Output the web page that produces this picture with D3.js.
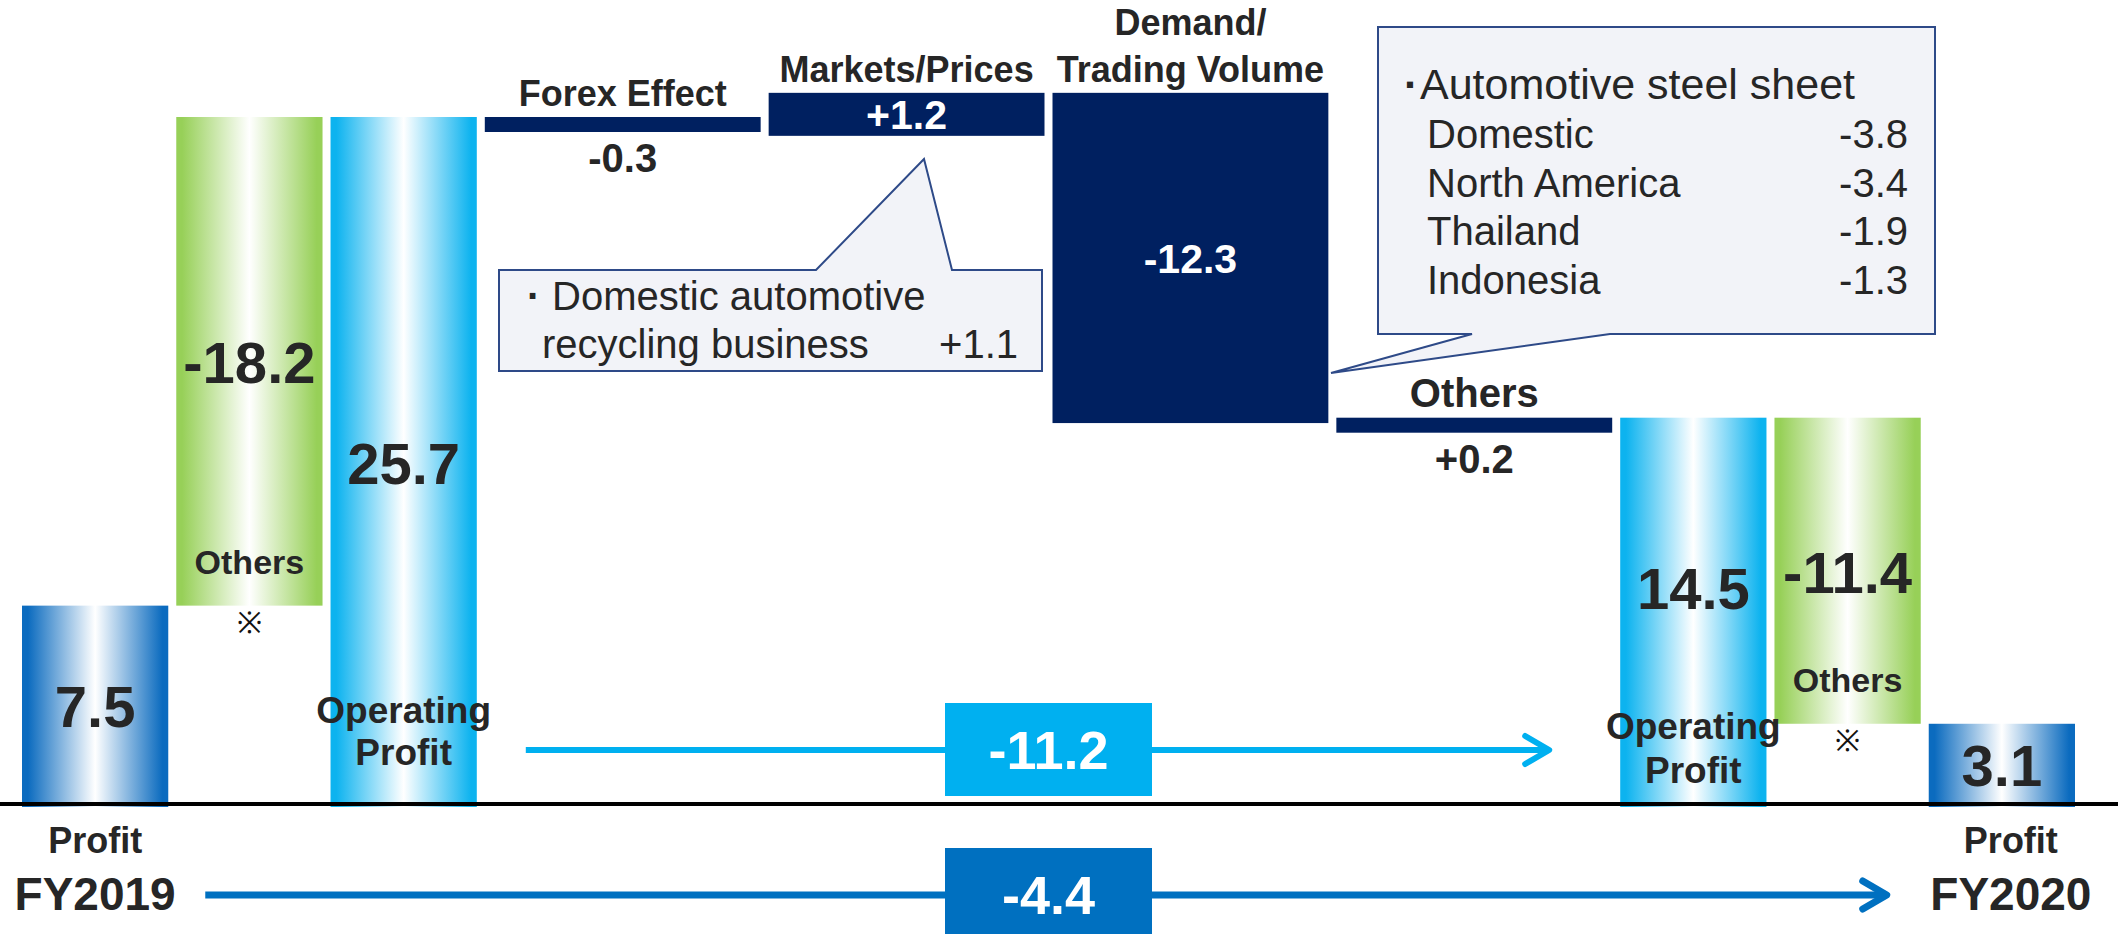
<!DOCTYPE html>
<html><head><meta charset="utf-8">
<script src="https://cdn.jsdelivr.net/npm/d3@7"></script>
<style>
html,body{margin:0;padding:0;background:#fff;}
svg{display:block;}
text{font-family:"Liberation Sans",Arial,Helvetica,sans-serif;}
</style>
</head><body>
<svg id="chart" width="2118" height="934"></svg>
<script>
// ---------------- data ----------------
const categories = ["Profit\nFY2019","Others","Operating\nProfit","Forex Effect","Markets/Prices","Demand/\nTrading Volume","Others","Operating\nProfit","Others","Profit\nFY2020"];
const values = [7.5, -18.2, 25.7, -0.3, 1.2, -12.3, 0.2, 14.5, -11.4, 3.1];
const kinds = ["profit","bridge","op","delta","delta","delta","delta","op","bridge","profit"];
const opChange = -11.2;
const profitChange = -4.4;
const recyclingLines = ["Domestic automotive","recycling business"];
const recyclingValue = 1.1;
const steelTitle = "Automotive steel sheet";
const steelRegions = ["Domestic","North America","Thailand","Indonesia"];
const steelValues = [-3.8, -3.4, -1.9, -1.3];

// ---------------- setup ----------------
const W = 2118, H = 934;
const svg = d3.select("#chart");
const TXT = "#262626", NAVY = "#002060", CYAN = "#00B0F0", BLUE = "#0070C0";
const fmtSigned = v => (v > 0 ? "+" : "") + v.toFixed(1);
const fmt = v => v.toFixed(1);

// waterfall levels
const bars = [];
let level = 0, prevKind = null;
values.forEach((v, i) => {
  const k = kinds[i];
  let s, e;
  if (k === "profit" || k === "op") { s = 0; e = v; }
  else if (k === "delta") { s = level; e = level + v; }
  else { s = level; e = prevKind === "profit" ? level - v : level + v; }
  level = Math.round(e * 10) / 10;
  if (k !== "bridge") prevKind = k;
  bars.push({i, k, v, s, e: level, cat: categories[i]});
});

// scales
const y = d3.scaleLinear().domain([0, 25.7]).range([807, 117]);
const weights = kinds.map(k => k === "delta" ? 1.84 : 1);
const cum = [0]; weights.forEach(w => cum.push(cum[cum.length - 1] + w));
const x = d3.scaleLinear().domain([0, cum[cum.length - 1]]).range([18, 2079]);
const GAP = 8, MINH = 15, MINLABEL = 43;
bars.forEach(b => {
  b.x0 = x(cum[b.i]) + GAP / 2;
  b.x1 = x(cum[b.i + 1]) - GAP / 2;
  b.cx = (b.x0 + b.x1) / 2;
  let top = y(Math.max(b.s, b.e)), bot = y(Math.min(b.s, b.e));
  const h = bot - top;
  b.small = h < 20;
  const minH = b.small ? MINH : MINLABEL;
  if (h < minH) {
    if (b.v < 0) { top = y(b.s); bot = top + minH; }
    else { top = y(b.e); bot = top + minH; }
  }
  b.top = top; b.bot = bot; b.cy = (top + bot) / 2;
});

// gradients
const defs = svg.append("defs");
function grad(id, edge) {
  const g = defs.append("linearGradient").attr("id", id).attr("x1", 0).attr("x2", 1).attr("y1", 0).attr("y2", 0);
  [[0, edge], [0.04, edge], [0.5, "#FFFFFF"], [0.96, edge], [1, edge]].forEach(([o, c]) =>
    g.append("stop").attr("offset", o).attr("stop-color", c));
}
grad("gProfit", "#0B6BBF");
grad("gOp", "#0DB3EF");
grad("gGreen", "#97D058");
const fillFor = k => k === "profit" ? "url(#gProfit)" : k === "op" ? "url(#gOp)" : k === "bridge" ? "url(#gGreen)" : NAVY;

// bars
svg.append("g").selectAll("rect").data(bars).join("rect")
  .attr("x", d => d.x0).attr("y", d => d.top)
  .attr("width", d => d.x1 - d.x0).attr("height", d => d.bot - d.top)
  .attr("fill", d => fillFor(d.k));

// baseline
svg.append("line").attr("x1", 0).attr("x2", W).attr("y1", y(0) - 3).attr("y2", y(0) - 3)
  .attr("stroke", "#000").attr("stroke-width", 4);

// ---------------- labels ----------------
const L = svg.append("g");
function txt(xp, yp, s, size, opts = {}) {
  return L.append("text").attr("x", xp).attr("y", yp).text(s)
    .attr("font-size", size).attr("font-weight", opts.weight || "bold")
    .attr("fill", opts.fill || TXT).attr("text-anchor", opts.anchor || "middle");
}
bars.forEach(b => {
  const lines = b.cat.split("\n");
  if (b.k === "profit") {
    txt(b.cx, b.cy + 21, fmt(b.v), 58);
    txt(b.cx + (b.i === 0 ? 0 : 9), y(0) + 46, lines[0], 36);
    txt(b.cx + (b.i === 0 ? 0 : 9), y(0) + 103, lines[1], 46);
  } else if (b.k === "op") {
    const first = b.i === 2;
    txt(b.cx, first ? b.cy + 22 : y(0) - 198, fmt(b.v), 58);
    txt(b.cx, y(0) + (first ? -84 : -68), lines[0], 37);
    txt(b.cx, y(0) + (first ? -42 : -24), lines[1], 37);
  } else if (b.k === "bridge") {
    txt(b.cx, b.cy + 22, fmtSigned(b.v), 58);
    txt(b.cx, b.bot - 32, lines[0], 34);
    L.append("text").attr("x", b.cx).attr("y", b.bot + 27).text("※")
      .attr("font-size", 30).attr("fill", "#111").attr("text-anchor", "middle")
      .attr("font-family", "'DejaVu Sans','Noto Sans CJK JP',sans-serif");
  } else {
    const isOthers = lines[0] === "Others";
    lines.slice().reverse().forEach((ln, j) =>
      txt(b.cx, b.top - 11 - j * 47, ln, isOthers ? 40 : 36));
    if (b.small) {
      txt(b.cx, b.bot + 40, fmtSigned(b.v), 40);
    } else {
      txt(b.cx, b.cy + 15, fmtSigned(b.v), 41, {fill: "#fff"});
    }
  }
});

// ---------------- callouts ----------------
const C = svg.append("g");
const cFill = "#F2F3F8", cStroke = "#2E4A88";
C.append("path")
  .attr("d", "M499,270 L816,270 L924,159 L952,270 L1042,270 L1042,371 L499,371 Z")
  .attr("fill", cFill).attr("stroke", cStroke).attr("stroke-width", 2);
C.append("text").attr("x", 527).attr("y", 310).text("·").attr("font-size", 40).attr("font-weight", "bold").attr("fill", TXT);
C.append("text").attr("x", 552).attr("y", 310).text(recyclingLines[0]).attr("font-size", 40).attr("fill", TXT);
C.append("text").attr("x", 542).attr("y", 358).text(recyclingLines[1]).attr("font-size", 40).attr("fill", TXT);
C.append("text").attr("x", 1018).attr("y", 358).text(fmtSigned(recyclingValue)).attr("font-size", 40).attr("fill", TXT).attr("text-anchor", "end");

C.append("path")
  .attr("d", "M1378,27 L1935,27 L1935,334 L1610,334 L1331,373 L1472,334 L1378,334 Z")
  .attr("fill", cFill).attr("stroke", cStroke).attr("stroke-width", 2);
C.append("text").attr("x", 1404).attr("y", 99).text("·").attr("font-size", 43).attr("font-weight", "bold").attr("fill", TXT);
C.append("text").attr("x", 1420).attr("y", 99).text(steelTitle).attr("font-size", 43).attr("fill", TXT);
steelRegions.forEach((r, j) => {
  const yy = 148 + j * 48.5;
  C.append("text").attr("x", 1427).attr("y", yy).text(r).attr("font-size", 40).attr("fill", TXT);
  C.append("text").attr("x", 1908).attr("y", yy).text(fmt(steelValues[j])).attr("font-size", 40).attr("fill", TXT).attr("text-anchor", "end");
});

// ---------------- change arrows ----------------
const A = svg.append("g");
const boxCx = (bars[4].x1 + bars[5].x0) / 2, boxW = 207, boxH = 93;
function arrow(x0, x1, yy, color, sw, value) {
  A.append("line").attr("x1", x0).attr("x2", x1 - 2).attr("y1", yy).attr("y2", yy)
    .attr("stroke", color).attr("stroke-width", sw);
  A.append("polyline").attr("points", `${x1 - 24},${yy - 14} ${x1},${yy} ${x1 - 24},${yy + 14}`)
    .attr("fill", "none").attr("stroke", color).attr("stroke-width", sw)
    .attr("stroke-linecap", "round").attr("stroke-linejoin", "round");
  A.append("rect").attr("x", boxCx - boxW / 2).attr("y", yy - boxH / 2 - 0.5).attr("width", boxW).attr("height", boxH).attr("fill", color);
  A.append("text").attr("x", boxCx).attr("y", yy + 19).text(fmt(value))
    .attr("font-size", 54).attr("font-weight", "bold").attr("fill", "#fff").attr("text-anchor", "middle");
}
arrow(bars[2].x1 + 49, bars[7].x0 - 71, 750, CYAN, 6, opChange);
arrow(bars[0].x1 + 37, bars[9].x0 - 42, 895, BLUE, 7, profitChange);
</script>
</body></html>
